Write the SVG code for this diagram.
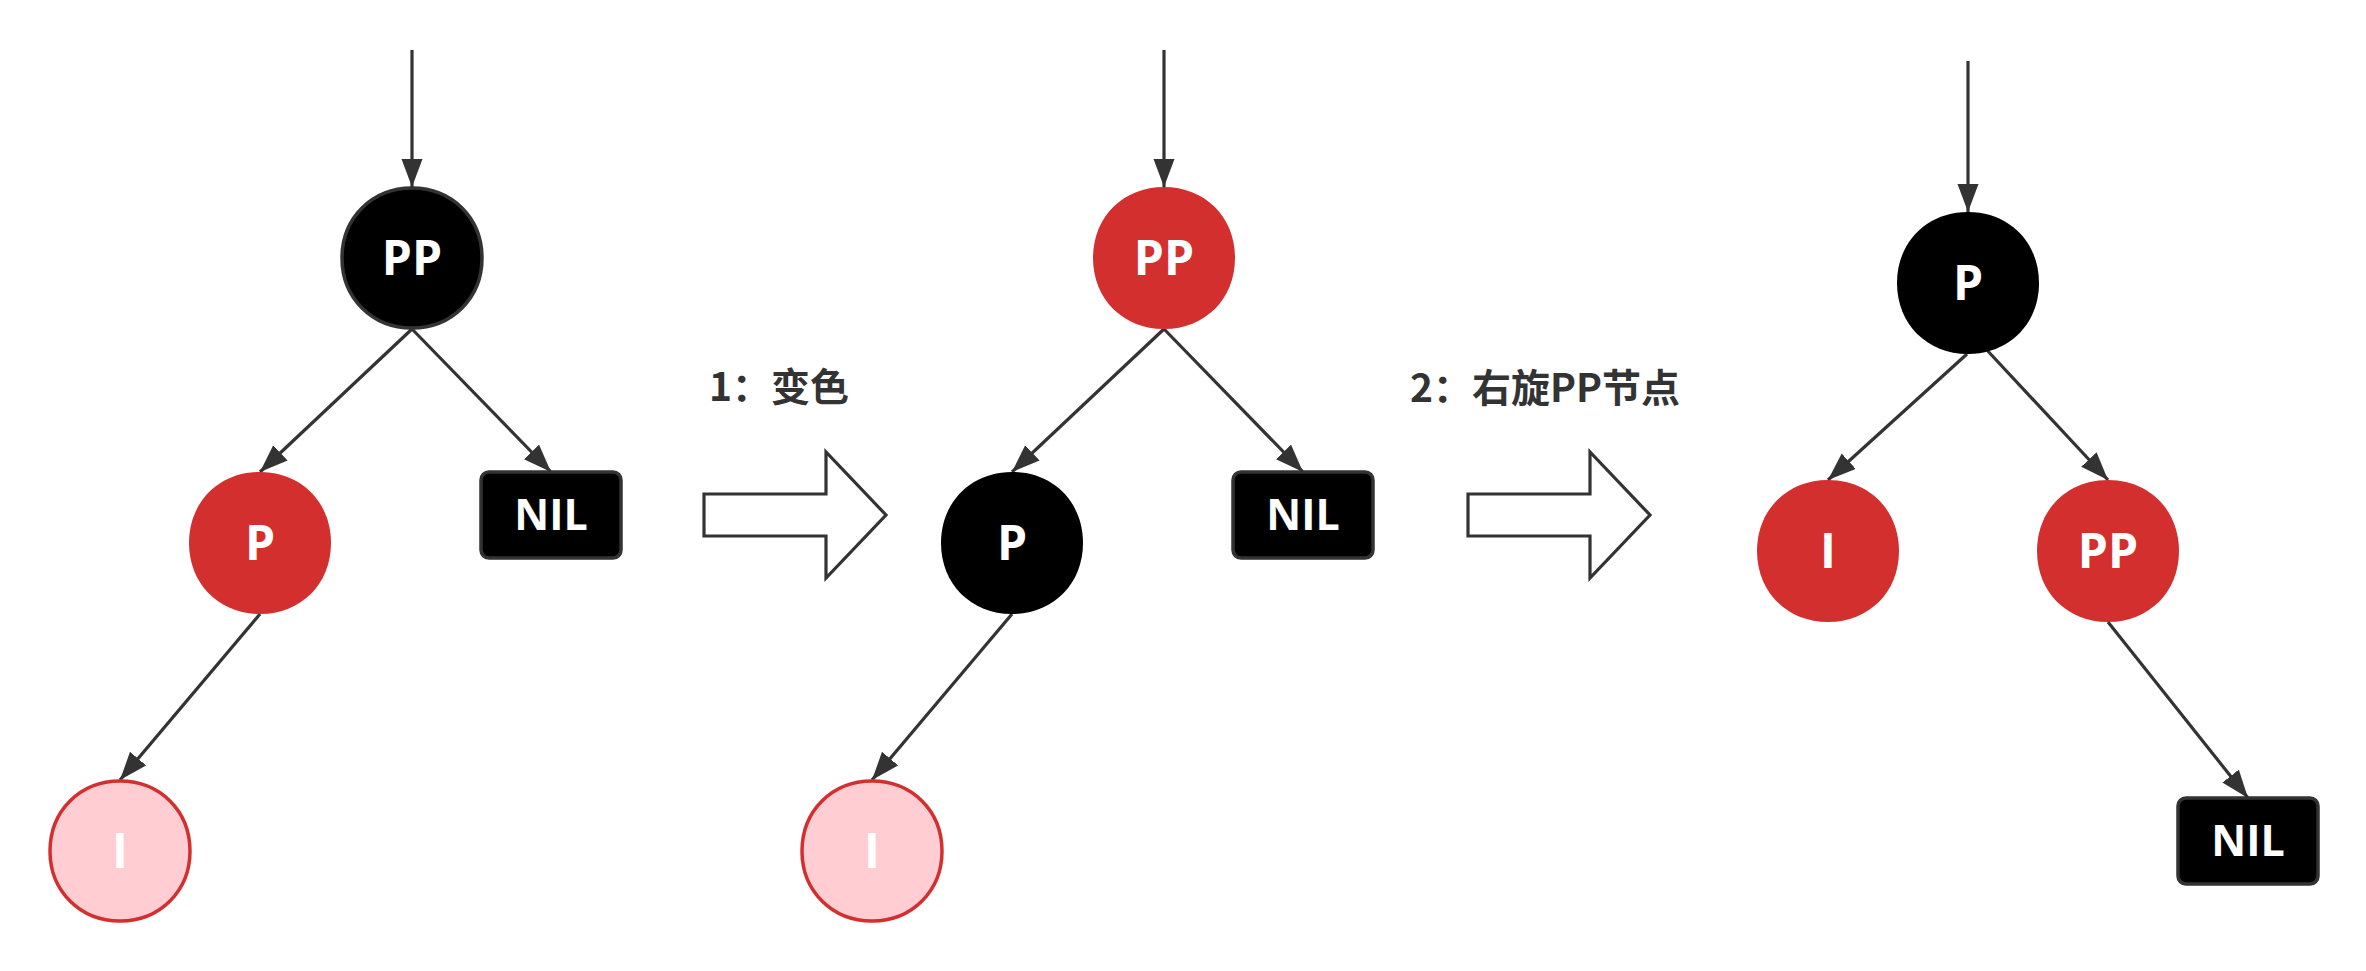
<svg xmlns="http://www.w3.org/2000/svg" width="2366" height="971" viewBox="0 0 2366 971">
<defs>
<style>
.edge{stroke:#333;stroke-width:3.2;fill:none;marker-end:url(#ah)}
.blk{fill:#000}
.blk-s{fill:#000;stroke:#333;stroke-width:3.5}
.red{fill:#d32f2f}
.pink{fill:#ffcdd2;stroke:#d32f2f;stroke-width:3.5}
.nil{fill:#000;stroke:#333;stroke-width:3.5}
.lbl{font-family:"Open Sans","Noto Sans","Liberation Sans",sans-serif;font-weight:700;fill:#fff;text-anchor:middle}
.big{font-size:48px}
.nilt{font-size:43px}
.step{font-family:"Noto Sans CJK SC","Noto Sans",sans-serif;font-weight:700;font-size:39px;fill:#333}
.hollow{fill:#fff;stroke:#333;stroke-width:3.2;stroke-linejoin:miter}
</style>
<marker id="ah" markerUnits="userSpaceOnUse" markerWidth="30" markerHeight="22" refX="28" refY="10.5" orient="auto">
<path d="M0,0 L28,10.5 L0,21 Z" fill="#333"/>
</marker>
<path id="blob" d="M0,-71 C41,-71 71,-41 71,0 C71,41 41,71 0,71 C-41,71 -71,41 -71,0 C-71,-41 -41,-71 0,-71 Z"/>
<path id="blobs" d="M0,-70 C40,-70 70,-40 70,0 C70,40 40,70 0,70 C-40,70 -70,40 -70,0 C-70,-40 -40,-70 0,-70 Z"/>
</defs>
<rect width="2366" height="971" fill="#fff"/>

<g id="connectors">
<line class="edge" x1="412" y1="50" x2="412" y2="187"/>
<line class="edge" x1="412" y1="329" x2="260" y2="472"/>
<line class="edge" x1="412" y1="329" x2="551" y2="472"/>
<line class="edge" x1="260" y1="614" x2="120" y2="780"/>

<line class="edge" x1="1164" y1="50" x2="1164" y2="187"/>
<line class="edge" x1="1164" y1="329" x2="1012" y2="472"/>
<line class="edge" x1="1164" y1="329" x2="1303" y2="472"/>
<line class="edge" x1="1012" y1="614" x2="872" y2="780"/>

<line class="edge" x1="1968" y1="61" x2="1968" y2="212"/>
<line class="edge" x1="1967" y1="354" x2="1828" y2="480"/>
<line class="edge" x1="1985" y1="348" x2="2108" y2="480"/>
<line class="edge" x1="2108" y1="622" x2="2248" y2="798"/>
</g>

<g id="t1-pp">
<use href="#blobs" class="blk-s" x="412" y="258"/>
<text class="lbl big" x="412" y="275">PP</text>
</g>
<g id="t1-p">
<use href="#blob" class="red" x="260" y="543"/>
<text class="lbl big" x="260" y="560">P</text>
</g>
<g id="t1-nil">
<rect class="nil" x="481" y="472" width="140" height="86" rx="8"/>
<text class="lbl nilt" x="551" y="530">NIL</text>
</g>
<g id="t1-i">
<use href="#blobs" class="pink" x="120" y="851"/>
<text class="lbl big" x="120" y="868">I</text>
</g>

<g id="step1">
<text class="step" x="709" y="401">1：变色</text>
<polygon class="hollow" points="704,494 826,494 826,452 886,515 826,578 826,536 704,536"/>
</g>

<g id="t2-pp">
<use href="#blob" class="red" x="1164" y="258"/>
<text class="lbl big" x="1164" y="275">PP</text>
</g>
<g id="t2-p">
<use href="#blob" class="blk" x="1012" y="543"/>
<text class="lbl big" x="1012" y="560">P</text>
</g>
<g id="t2-nil">
<rect class="nil" x="1233" y="472" width="140" height="86" rx="8"/>
<text class="lbl nilt" x="1303" y="530">NIL</text>
</g>
<g id="t2-i">
<use href="#blobs" class="pink" x="872" y="851"/>
<text class="lbl big" x="872" y="868">I</text>
</g>

<g id="step2">
<text class="step" x="1410" y="402">2：右旋PP节点</text>
<polygon class="hollow" points="1468,494 1590,494 1590,452 1650,515 1590,578 1590,536 1468,536"/>
</g>

<g id="t3-p">
<use href="#blob" class="blk" x="1968" y="283"/>
<text class="lbl big" x="1968" y="300">P</text>
</g>
<g id="t3-i">
<use href="#blob" class="red" x="1828" y="551"/>
<text class="lbl big" x="1828" y="568">I</text>
</g>
<g id="t3-pp">
<use href="#blob" class="red" x="2108" y="551"/>
<text class="lbl big" x="2108" y="568">PP</text>
</g>
<g id="t3-nil">
<rect class="nil" x="2178" y="798" width="140" height="86" rx="8"/>
<text class="lbl nilt" x="2248" y="856">NIL</text>
</g>
</svg>
